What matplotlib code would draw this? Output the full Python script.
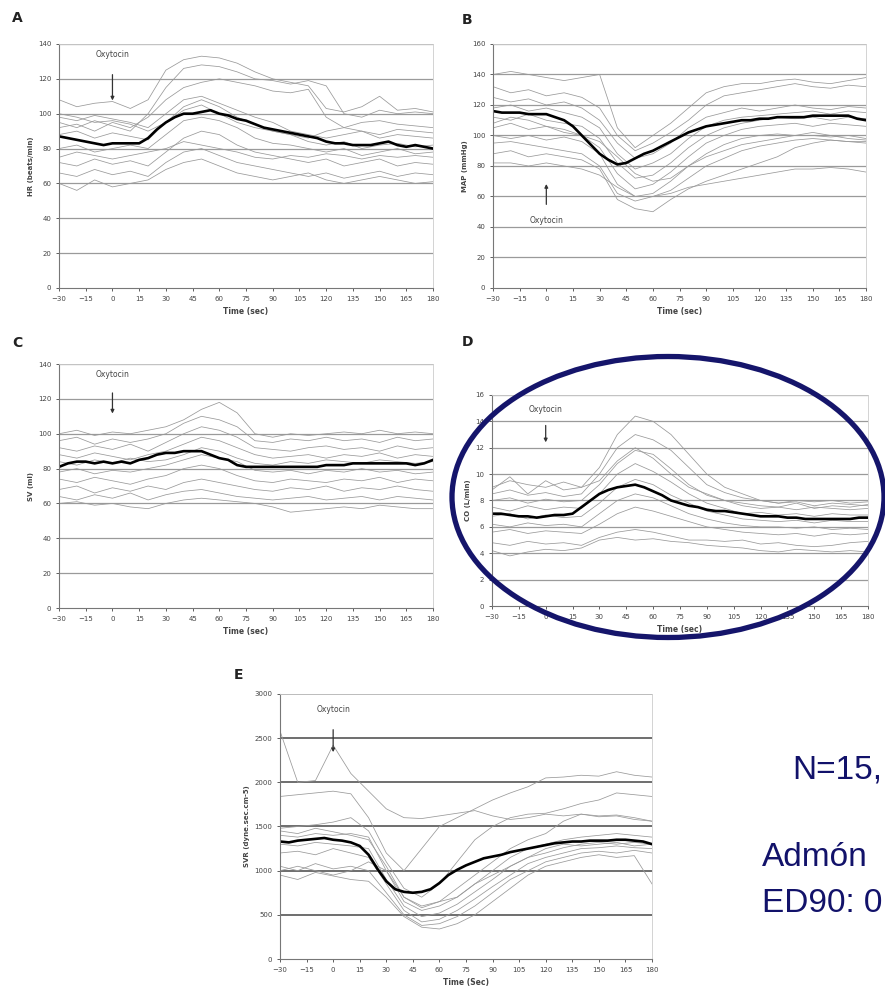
import numpy as np
import matplotlib.pyplot as plt
from matplotlib.patches import Ellipse

# time grids (sec)
t_sub = list(range(-30, 181, 10))
t_mean = list(range(-30, 181, 5))
xticks = list(range(-30, 181, 15))

# ---- A: HR (beats/min)
hr_mean = [87, 86, 85, 84, 83, 82, 83, 83, 83, 83, 86, 91, 95, 98, 100, 100, 101, 102, 100, 99, 97, 96,
           94, 92, 91, 90, 89, 88, 87, 86, 84, 83, 83, 82, 82, 82, 83, 84, 82, 81, 82, 81, 80]
hr_subjects = [
    [108, 104, 106, 107, 103, 108, 125, 131, 133, 132, 129, 124, 120, 118, 116, 103, 101, 104, 110, 102, 103, 101],
    [95, 92, 96, 93, 90, 100, 115, 126, 128, 127, 124, 120, 119, 117, 119, 116, 100, 98, 102, 100, 101, 100],
    [92, 94, 90, 95, 92, 98, 108, 115, 118, 120, 118, 116, 113, 112, 114, 98, 92, 90, 88, 91, 90, 89],
    [98, 96, 99, 97, 95, 92, 100, 108, 110, 106, 102, 98, 95, 90, 88, 86, 88, 90, 86, 88, 87, 86],
    [88, 90, 86, 89, 87, 85, 95, 104, 108, 104, 98, 94, 90, 88, 84, 82, 84, 80, 82, 83, 81, 82],
    [80, 82, 78, 80, 82, 80, 88, 96, 98, 96, 92, 86, 83, 82, 80, 78, 80, 76, 78, 80, 77, 78],
    [72, 70, 74, 71, 73, 70, 78, 86, 90, 88, 82, 78, 76, 74, 72, 74, 70, 72, 74, 70, 72, 71],
    [66, 64, 68, 65, 67, 64, 72, 78, 80, 76, 72, 70, 68, 66, 64, 66, 63, 65, 67, 64, 66, 65],
    [60, 56, 62, 58, 60, 62, 68, 72, 74, 70, 66, 64, 62, 64, 66, 62, 60, 62, 64, 62, 60, 61],
    [100, 98, 95, 96, 94, 90, 95, 102, 105, 100, 95, 92, 90, 88, 86, 90, 92, 95, 96, 94, 93, 92],
    [75, 78, 76, 74, 76, 78, 80, 84, 82, 80, 78, 75, 74, 76, 75, 77, 76, 74, 76, 75, 76, 75],
]

# ---- B: MAP (mmHg)
map_mean = [116, 115, 115, 115, 114, 114, 114, 112, 110, 106, 100, 94, 88, 84, 81, 82, 85, 88, 90, 93, 96, 99,
            102, 104, 106, 107, 108, 109, 110, 110, 111, 111, 112, 112, 112, 112, 113, 113, 113, 113, 113, 111, 110]
map_subjects = [
    [140, 142, 140, 138, 136, 138, 140, 105, 92, 100, 108, 118, 128, 132, 134, 134, 136, 137, 135, 134, 136, 138],
    [132, 128, 130, 126, 128, 125, 118, 100, 90, 95, 102, 110, 120, 126, 128, 130, 132, 134, 132, 131, 133, 132],
    [125, 122, 124, 120, 122, 118, 110, 95, 85, 88, 95, 105, 112, 115, 118, 116, 118, 120, 118, 117, 119, 118],
    [118, 120, 116, 118, 115, 112, 105, 88, 78, 82, 88, 98, 106, 110, 112, 113, 114, 115, 116, 114, 116, 115],
    [112, 110, 114, 110, 108, 106, 98, 82, 72, 74, 82, 92, 100, 105, 108, 110, 112, 111, 112, 110, 112, 111],
    [105, 108, 104, 106, 102, 100, 92, 75, 65, 68, 76, 86, 95, 100, 104, 106, 107, 108, 106, 108, 107, 106],
    [100, 98, 100, 97, 99, 96, 88, 68, 60, 62, 70, 80, 88, 94, 98, 100, 101, 100, 102, 100, 98, 97],
    [95, 96, 94, 92, 90, 88, 80, 62, 57, 60, 64, 72, 80, 85, 90, 93, 95, 97, 98, 97, 96, 96],
    [88, 90, 86, 88, 86, 84, 78, 58, 52, 50, 58, 65, 70, 74, 78, 82, 86, 92, 95, 97, 96, 95],
    [82, 82, 80, 82, 80, 78, 74, 66, 60, 60, 62, 66, 68, 70, 72, 74, 76, 78, 78, 79, 78, 76],
    [108, 112, 110, 106, 104, 100, 96, 86, 75, 70, 72, 80, 86, 90, 94, 96, 98, 100, 100, 99, 100, 98],
]

# ---- C: SV (ml)
sv_mean = [81, 83, 84, 84, 83, 84, 83, 84, 83, 85, 86, 88, 89, 89, 90, 90, 90, 88, 86, 85, 82, 81,
           81, 81, 81, 81, 81, 81, 81, 81, 82, 82, 82, 83, 83, 83, 83, 83, 83, 83, 82, 83, 85]
sv_subjects = [
    [100, 102, 99, 101, 100, 102, 104, 108, 114, 118, 112, 100, 98, 100, 99, 100, 101, 100, 102, 100, 101, 100],
    [96, 98, 94, 97, 95, 97, 100, 106, 110, 108, 104, 96, 95, 97, 96, 98, 96, 97, 95, 98, 96, 97],
    [92, 90, 93, 91, 94, 90, 95, 100, 104, 102, 98, 92, 91, 90, 92, 93, 91, 92, 90, 93, 91, 92],
    [88, 86, 89, 87, 85, 88, 90, 94, 98, 96, 92, 88, 86, 87, 88, 86, 88, 87, 89, 86, 88, 87],
    [78, 80, 77, 79, 78, 80, 82, 85, 88, 86, 84, 79, 78, 79, 77, 79, 78, 80, 78, 79, 77, 78],
    [74, 72, 75, 73, 71, 74, 76, 80, 82, 80, 76, 73, 72, 74, 73, 72, 74, 73, 75, 72, 74, 73],
    [68, 70, 66, 69, 67, 70, 68, 72, 74, 72, 70, 68, 67, 69, 68, 70, 67, 69, 68, 70, 68, 67],
    [64, 62, 65, 63, 66, 62, 65, 67, 68, 66, 64, 63, 62, 63, 64, 62, 63, 64, 62, 64, 63, 62],
    [60, 61, 59, 60, 58, 57, 60, 62, 63, 62, 61, 60, 58, 55, 56, 57, 58, 57, 59, 58, 57, 57],
    [84, 82, 85, 83, 86, 84, 85, 88, 92, 90, 86, 83, 82, 84, 83, 85, 84, 83, 85, 84, 83, 84],
]

# ---- D: CO (L/min)
co_mean = [7.0, 7.0, 6.9, 6.8, 6.8, 6.7, 6.8, 6.9, 6.9, 7.0, 7.5, 8.0, 8.5, 8.8, 9.0, 9.1, 9.2, 9.0, 8.7, 8.4, 8.0, 7.8,
           7.6, 7.5, 7.3, 7.2, 7.2, 7.1, 7.0, 6.9, 6.8, 6.8, 6.8, 6.7, 6.7, 6.6, 6.6, 6.6, 6.6, 6.6, 6.6, 6.7, 6.7]
co_subjects = [
    [9.0, 9.5, 9.2, 9.0, 9.4, 9.0, 10.5, 13.0, 14.4, 14.0, 13.0, 11.5, 10.0, 9.0, 8.5, 8.0, 7.8, 8.0, 7.9, 8.0, 7.8, 7.9],
    [8.5, 8.8, 8.4, 8.6, 8.3, 8.5, 10.0, 12.0, 13.0, 12.6, 11.8, 10.5, 9.2, 8.6, 8.2, 8.0, 7.8, 7.9, 7.6, 7.8, 7.7, 7.6],
    [8.0, 8.2, 7.8, 8.1, 7.9, 8.0, 9.2, 10.8, 11.8, 11.5, 10.4, 9.2, 8.4, 8.0, 7.6, 7.4, 7.5, 7.3, 7.5, 7.4, 7.3, 7.4],
    [7.5, 7.2, 7.6, 7.3, 7.5, 7.4, 8.5, 10.0, 10.8, 10.2, 9.4, 8.5, 7.8, 7.4, 7.0, 7.1, 6.9, 7.0, 6.8, 7.0, 6.9, 6.9],
    [6.8, 7.0, 6.6, 6.9, 6.7, 6.8, 7.8, 9.0, 9.6, 9.2, 8.4, 7.8, 7.2, 6.9, 6.6, 6.5, 6.4, 6.5, 6.3, 6.5, 6.4, 6.4],
    [6.2, 6.0, 6.3, 6.1, 6.2, 6.0, 7.0, 8.0, 8.5, 8.2, 7.6, 7.0, 6.6, 6.3, 6.1, 6.0, 6.0, 5.9, 6.0, 5.8, 5.9, 5.8],
    [5.6, 5.8, 5.5, 5.7, 5.6, 5.5, 6.2, 7.0, 7.5, 7.2, 6.8, 6.4, 6.0, 5.8, 5.6, 5.5, 5.4, 5.5, 5.3, 5.5, 5.4, 5.5],
    [4.8, 4.6, 4.9, 4.7, 4.8, 4.6, 5.2, 5.6, 5.8, 5.6, 5.3, 5.0, 5.0, 4.9, 5.0, 4.7, 4.8, 4.6, 4.5, 4.6, 4.8, 4.9],
    [4.2, 3.8, 4.1, 4.3, 4.2, 4.4, 5.0, 5.2, 5.0, 5.1, 4.9, 4.8, 4.6, 4.5, 4.4, 4.2, 4.1, 4.3, 4.2, 4.1, 4.2, 4.1],
    [8.8, 9.8, 8.5, 9.5, 8.8, 9.0, 9.5, 11.0, 12.0, 11.2, 10.0, 9.0, 8.5, 8.0, 7.8, 7.6, 7.5, 7.8, 7.4, 7.6, 7.5, 7.7],
]

# ---- E: SVR (dyne.sec.cm-5)
svr_mean = [1330, 1320, 1340, 1350, 1360, 1370, 1350, 1340, 1320, 1280, 1180, 1020, 880, 790, 760, 750, 760, 790,
            860, 950, 1010, 1060, 1100, 1140, 1160, 1180, 1210, 1230, 1250, 1270, 1290, 1310, 1320, 1330, 1330,
            1340, 1340, 1340, 1350, 1350, 1340, 1330, 1300]
svr_subjects = [
    [2580, 2000, 2020, 2420, 2100, 1900, 1700, 1600, 1590, 1620, 1650, 1680, 1620, 1580, 1600, 1640, 1620, 1640, 1610, 1620, 1580, 1560],
    [1840, 1860, 1880, 1900, 1870, 1600, 1200, 1000, 1250, 1500, 1600, 1700, 1800, 1880, 1950, 2050, 2060, 2080, 2070, 2120, 2080, 2060],
    [1480, 1500, 1520, 1550, 1600, 1450, 1100, 800, 700, 850, 1100, 1350, 1500, 1600, 1640, 1650, 1700, 1760, 1800, 1880, 1860, 1840],
    [1450, 1420, 1480, 1440, 1400, 1350, 1050, 700, 580, 650, 800, 950, 1100, 1250, 1350, 1420, 1560, 1640, 1620, 1630, 1600, 1560],
    [1400, 1380, 1420, 1400, 1420, 1380, 1000, 650, 550, 600, 700, 850, 1000, 1150, 1250, 1300, 1350, 1380, 1400, 1420, 1400, 1380],
    [1300, 1280, 1320, 1300, 1280, 1250, 900, 600, 480, 520, 620, 760, 900, 1050, 1150, 1200, 1260, 1300, 1320, 1300, 1320, 1300],
    [1200, 1220, 1180, 1250, 1200, 1150, 850, 550, 420, 450, 550, 680, 820, 950, 1080, 1150, 1200, 1250, 1260, 1280, 1260, 1250],
    [1050, 1000, 1080, 1020, 1050, 1000, 750, 500, 380, 400, 480, 600, 750, 900, 1000, 1100, 1150, 1200, 1220, 1200, 1230, 1200],
    [950, 900, 980, 940, 900, 880, 700, 480, 360, 340, 400, 500, 650, 800, 950, 1050, 1100, 1150, 1180, 1150, 1170, 850],
    [1000, 1050, 1000, 950, 1000, 1100, 1000, 700, 600, 650, 700, 850, 950, 1050, 1150, 1250, 1300, 1280, 1300, 1320, 1280, 1300],
]

W, H = 885, 1002
fig = plt.figure(figsize=(W / 100, H / 100), dpi=100)


def panel(rect, letter, letter_xy, subjects, mean, ylim, ystep, ylabel, xlabel, arrow,
          grid_col='#9a9a9a', grid_lw=0.9):
    ax = fig.add_axes(rect)
    for s in subjects:
        ax.plot(t_sub, s, color='#999999', lw=0.55)
    ax.plot(t_mean, mean, color='black', lw=1.9)
    ax.set_xlim(-30, 180)
    ax.set_ylim(*ylim)
    yt = np.arange(ylim[0], ylim[1] + ystep / 2, ystep)
    ax.set_yticks(yt)
    for v in yt[1:]:
        ax.axhline(v, color=grid_col, lw=grid_lw, zorder=0)
    ax.set_xticks(xticks)
    ax.tick_params(labelsize=5, colors='#444', length=2, width=0.6)
    for side in ['left', 'bottom']:
        ax.spines[side].set_color('#777')
        ax.spines[side].set_linewidth(0.8)
    for side in ['top', 'right']:
        ax.spines[side].set_color('#cccccc')
        ax.spines[side].set_linewidth(0.6)
    ax.set_ylabel(ylabel, fontsize=5, fontweight='bold', color='#444', labelpad=3)
    ax.set_xlabel(xlabel, fontsize=5.5, fontweight='bold', color='#444', labelpad=4)
    # oxytocin marker
    tail, tip, text_y = arrow
    ax.annotate('', xy=(0, tip), xytext=(0, tail),
                arrowprops=dict(arrowstyle='-|>', color='#333', lw=0.9, mutation_scale=5))
    ax.text(0, text_y, 'Oxytocin', fontsize=5.5, color='#444', ha='center', va='center')
    fig.text(letter_xy[0] / W, 1 - letter_xy[1] / H, letter, fontsize=10, fontweight='bold',
             color='#222', va='center')
    return ax


panel([0.0667, 0.7126, 0.4226, 0.2435], 'A', (12, 18), hr_subjects, hr_mean, (0, 140), 20,
      'HR (beats/min)', 'Time (sec)', (124, 106, 134))
panel([0.5571, 0.7126, 0.4215, 0.2435], 'B', (462, 20), map_subjects, map_mean, (0, 160), 20,
      'MAP (mmHg)', 'Time (sec)', (53, 70, 44.5))
panel([0.0667, 0.3932, 0.4226, 0.2435], 'C', (12, 343), sv_subjects, sv_mean, (0, 140), 20,
      'SV (ml)', 'Time (sec)', (125, 110, 134))
panel([0.5559, 0.3952, 0.4249, 0.2106], 'D', (462, 342), co_subjects, co_mean, (0, 16), 2,
      'CO (L/min)', 'Time (sec)', (13.9, 12.2, 14.9))
panel([0.3164, 0.0429, 0.4203, 0.2645], 'E', (234, 675), svr_subjects, svr_mean, (0, 3000), 500,
      'SVR (dyne.sec.cm-5)', 'Time (Sec)', (2627, 2310, 2830), grid_col='#555', grid_lw=1.2)

# highlight ellipse around panel D
fig.patches.append(Ellipse((668 / W, 1 - 497 / H), 432 / W, 281 / H,
                           transform=fig.transFigure, fill=False, edgecolor='#15156b', lw=3.8))

# side notes near the right edge
navy = '#12126a'
note_font = dict(fontsize=24, color=navy, va='center', family=['Liberation Sans', 'DejaVu Sans'])
fig.text(792 / W, 1 - 770 / H, 'N=15,', **note_font)
fig.text(762 / W, 1 - 858 / H, 'Admón', **note_font)
fig.text(762 / W, 1 - 903 / H, 'ED90: 0', **note_font)

fig.savefig('out.png', dpi=100)
